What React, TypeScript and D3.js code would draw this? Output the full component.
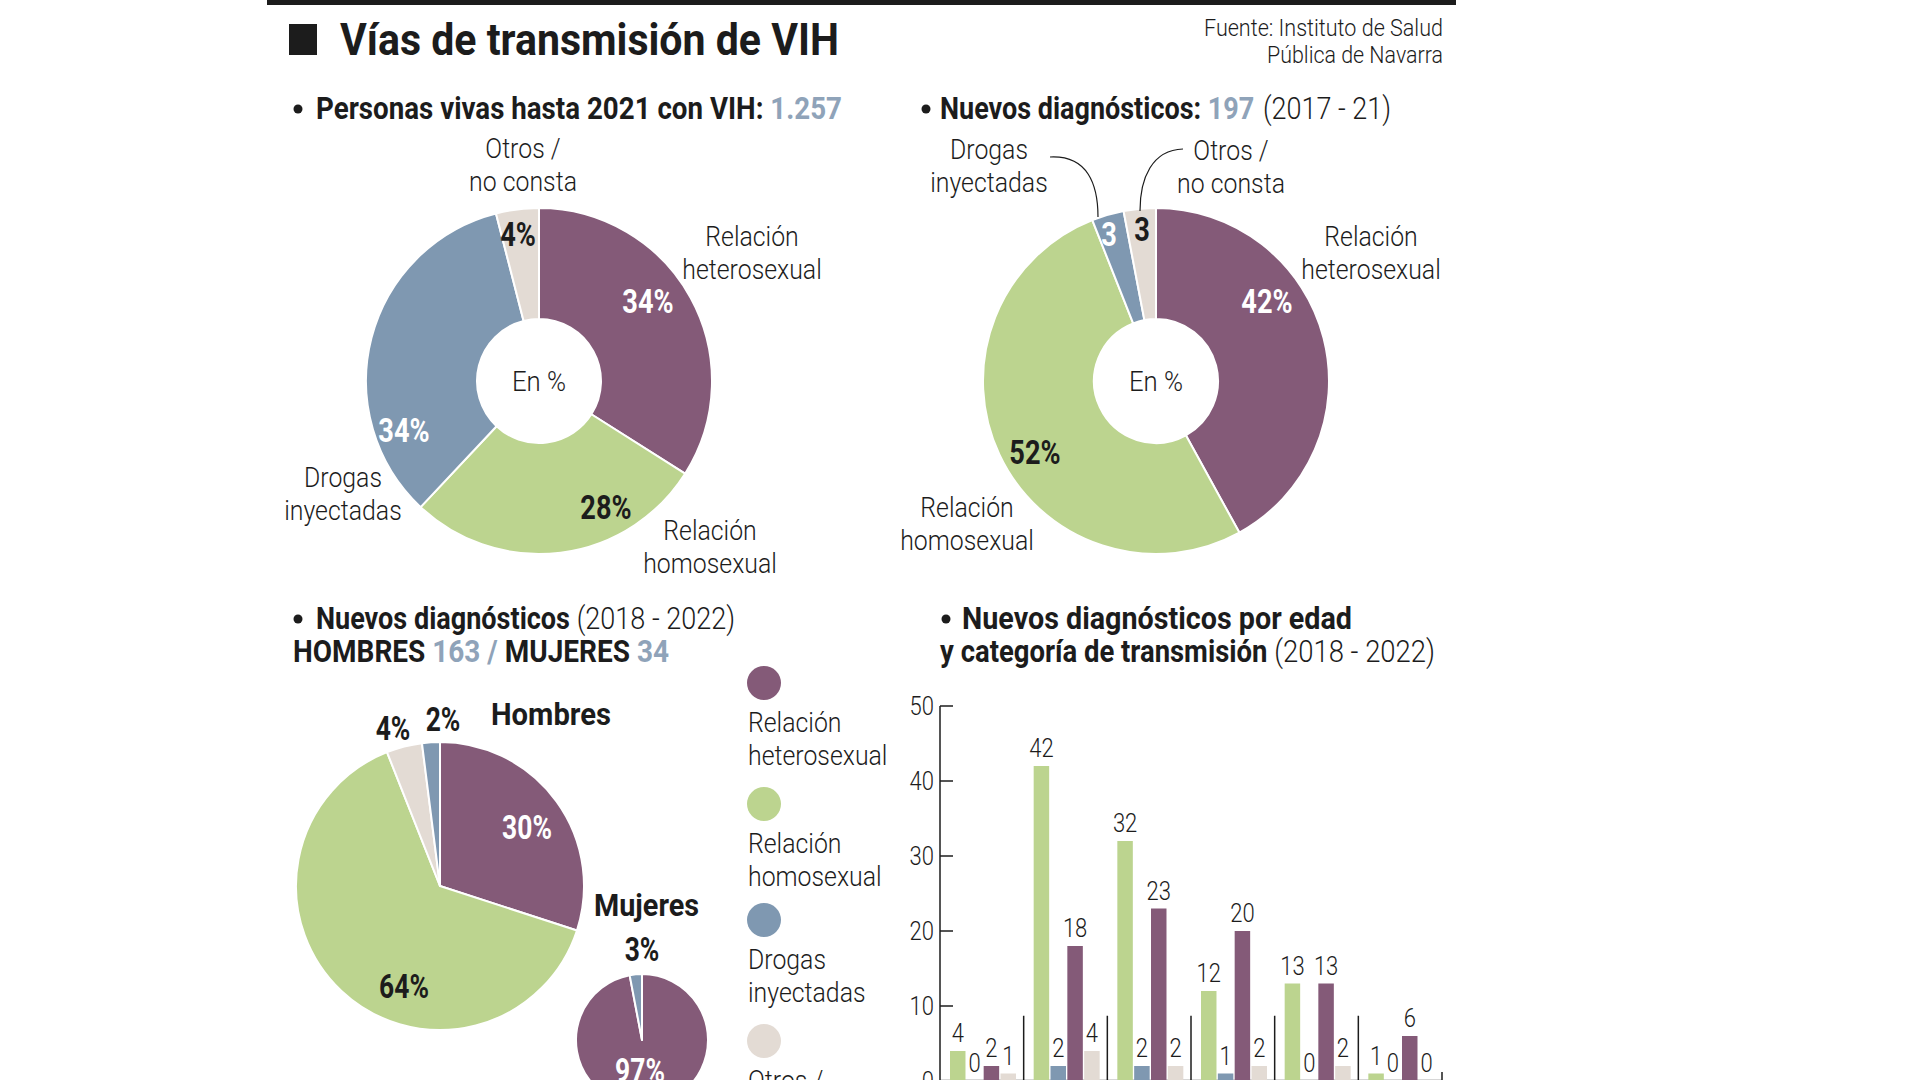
import React from 'react';
import * as d3 from 'd3';

// Palette for the four transmission routes
const COLORS: Record<string, string> = {
  hetero: '#845a78',
  homo: '#bcd48f',
  drogas: '#7f98b1',
  otros: '#e3dbd4',
};
const INK = '#1c1c1c';
const NUM_BLUE = '#8fa3b9';
const FONT = 'Roboto, "Noto Sans", sans-serif';

// Personas vivas hasta 2021 con VIH (%)
const livingCategories = ['hetero', 'homo', 'drogas', 'otros'];
const livingValues = [34, 28, 34, 4];

// Nuevos diagnósticos 2017-21 (%)
const recentCategories = ['hetero', 'homo', 'drogas', 'otros'];
const recentValues = [42, 52, 3, 3];

// Nuevos diagnósticos 2018-2022, hombres (%)
const menCategories = ['hetero', 'homo', 'otros', 'drogas'];
const menValues = [30, 64, 4, 2];

// Nuevos diagnósticos 2018-2022, mujeres (%)
const womenCategories = ['hetero', 'drogas'];
const womenValues = [97, 3];

// Nuevos diagnósticos por edad y categoría (casos)
const ageGroups = ['g1', 'g2', 'g3', 'g4', 'g5', 'g6'];
const barSeries = ['homo', 'drogas', 'hetero', 'otros'];
const homoByAge = [4, 42, 32, 12, 13, 1];
const drogasByAge = [0, 2, 2, 1, 0, 0];
const heteroByAge = [2, 18, 23, 20, 13, 6];
const otrosByAge = [1, 4, 2, 2, 2, 0];
const yTicks = [0, 10, 20, 30, 40, 50];

const legendKeys = ['hetero', 'homo', 'drogas', 'otros'];
const legendLabels = [
  ['Relación', 'heterosexual'],
  ['Relación', 'homosexual'],
  ['Drogas', 'inyectadas'],
  ['Otros /', 'no consta'],
];

const seriesByKey: Record<string, number[]> = {
  homo: homoByAge,
  drogas: drogasByAge,
  hetero: heteroByAge,
  otros: otrosByAge,
};

type LabelProps = {
  x: number;
  y: number;
  size: number;
  weight?: number;
  fill?: string;
  anchor?: 'start' | 'middle' | 'end';
  sx?: number;
  children: React.ReactNode;
};

// Text squeezed horizontally to give a condensed face
function Label({ x, y, size, weight = 300, fill = INK, anchor = 'middle', sx = 0.92, children }: LabelProps) {
  return (
    <text
      transform={`translate(${x},${y}) scale(${sx},1)`}
      fontSize={size}
      fontWeight={weight}
      fill={fill}
      textAnchor={anchor}
      fontFamily={FONT}
    >
      {children}
    </text>
  );
}

type FitProps = {
  x: number;
  y: number;
  width: number;
  size: number;
  weight?: number;
  fill?: string;
  children: React.ReactNode;
};

// Text fitted to a fixed run length
function Fit({ x, y, width, size, weight = 700, fill = INK, children }: FitProps) {
  return (
    <text
      x={x}
      y={y}
      textLength={width}
      lengthAdjust="spacingAndGlyphs"
      fontSize={size}
      fontWeight={weight}
      fill={fill}
      fontFamily={FONT}
    >
      {children}
    </text>
  );
}

type PieProps = {
  cx: number;
  cy: number;
  values: number[];
  cats: string[];
  inner: number;
  outer: number;
  texts: string[];
  offsets: [number, number][];
  fills: string[];
  size: number;
};

function PieChart({ cx, cy, values, cats, inner, outer, texts, offsets, fills, size }: PieProps) {
  const arcs = d3.pie<number>().sort(null).value((d) => d)(values);
  const arcGen = d3.arc<d3.PieArcDatum<number>>().innerRadius(inner).outerRadius(outer);
  return (
    <g transform={`translate(${cx},${cy})`}>
      {arcs.map((a, i) => (
        <path key={i} d={arcGen(a) || ''} fill={COLORS[cats[i]]} stroke="#fff" strokeWidth={2} strokeLinejoin="round" />
      ))}
      {arcs.map((a, i) => (
        <Label key={'l' + i} x={offsets[i][0]} y={offsets[i][1]} size={size} weight={700} fill={fills[i]} sx={0.8}>
          {texts[i]}
        </Label>
      ))}
    </g>
  );
}

function CategoryName({ x, y, lines }: { x: number; y: number; lines: string[] }) {
  return (
    <g>
      {lines.map((l, i) => (
        <Label key={i} x={x} y={y + i * 33} size={27}>
          {l}
        </Label>
      ))}
    </g>
  );
}

function BarChart() {
  const x0 = d3.scaleBand<string>().domain(ageGroups).range([940, 1442]).padding(0);
  const x1 = d3.scaleBand<string>().domain(barSeries).range([10, 76]).paddingInner(0.08);
  const y = d3.scaleLinear().domain([0, 50]).range([1081, 706]);
  const axisX = x0.range()[0];
  return (
    <g>
      <line x1={axisX} x2={1442} y1={1080} y2={1080} stroke="#c8c8c8" strokeWidth={1.5} />
      <line x1={axisX} x2={axisX} y1={y(50)} y2={y(0)} stroke={INK} strokeWidth={1.5} />
      {yTicks.map((t) => (
        <g key={t}>
          <line x1={axisX} x2={axisX + 13} y1={y(t)} y2={y(t)} stroke={INK} strokeWidth={1.5} />
          <Label x={axisX - 6} y={y(t) + 9} size={25} anchor="end" sx={0.88}>
            {t}
          </Label>
        </g>
      ))}
      {ageGroups.map((g, gi) => {
        const gx = x0(g) as number;
        const sepX = gx + x0.bandwidth();
        const last = gi === ageGroups.length - 1;
        return (
          <g key={g}>
            <line x1={sepX} x2={sepX} y1={last ? y(1.2) : y(8.7)} y2={y(0)} stroke={INK} strokeWidth={1.5} />
            {barSeries.map((s) => {
              const v = seriesByKey[s][gi];
              const bx = gx + (x1(s) as number);
              return (
                <g key={s}>
                  {v > 0 && (
                    <rect x={bx} y={y(v)} width={x1.bandwidth()} height={y(0) - y(v)} fill={COLORS[s]} />
                  )}
                  <Label x={bx + x1.bandwidth() / 2} y={y(v) - 9} size={25} sx={0.88}>
                    {v}
                  </Label>
                </g>
              );
            })}
          </g>
        );
      })}
    </g>
  );
}

function Legend() {
  const cys = [683, 804, 920, 1041];
  return (
    <g>
      {legendKeys.map((k, i) => (
        <g key={k}>
          <circle cx={764} cy={cys[i]} r={17} fill={COLORS[k]} />
          <Label x={748} y={cys[i] + 49} size={27} anchor="start">
            {legendLabels[i][0]}
          </Label>
          <Label x={748} y={cys[i] + 82} size={27} anchor="start">
            {legendLabels[i][1]}
          </Label>
        </g>
      ))}
    </g>
  );
}

export default function App() {
  const d1Texts = livingValues.map((v) => `${v}%`);
  const d2Texts = recentValues.map((v, i) => (i < 2 ? `${v}%` : `${v}`));
  const menTexts = menValues.map((v) => `${v}%`);
  const womenTexts = womenValues.map((v) => `${v}%`);

  return (
    <svg
      width={1920}
      height={1080}
      viewBox="0 0 1920 1080"
      style={{ position: 'absolute', left: 0, top: 0, background: '#fff' }}
    >
      <rect x={0} y={0} width={1920} height={1080} fill="#fff" />
      {/* header */}
      <rect x={267} y={0} width={1189} height={5} fill={INK} />
      <rect x={289} y={24} width={28} height={31} fill={INK} />
      <Fit x={340} y={55} width={499} size={45}>
        Vías de transmisión de VIH
      </Fit>
      <Fit x={1204} y={36} width={239} size={24} weight={300}>
        Fuente: Instituto de Salud
      </Fit>
      <Fit x={1267} y={63} width={176} size={24} weight={300}>
        Pública de Navarra
      </Fit>

      {/* section headings */}
      <circle cx={298} cy={109} r={4.5} fill={INK} />
      <Fit x={316} y={119} width={526} size={31}>
        {'Personas vivas hasta 2021 con VIH: '}
        <tspan fill={NUM_BLUE}>1.257</tspan>
      </Fit>
      <circle cx={926} cy={109} r={4.5} fill={INK} />
      <Fit x={940} y={119} width={451} size={31}>
        {'Nuevos diagnósticos: '}
        <tspan fill={NUM_BLUE}>197</tspan>
        <tspan fontWeight={300} dx={10}>
          (2017 - 21)
        </tspan>
      </Fit>
      <circle cx={298} cy={619} r={4.5} fill={INK} />
      <Fit x={316} y={629} width={419} size={31}>
        {'Nuevos diagnósticos '}
        <tspan fontWeight={300}>(2018 - 2022)</tspan>
      </Fit>
      <Fit x={293} y={662} width={376} size={31}>
        {'HOMBRES '}
        <tspan fill={NUM_BLUE}>{'163 / '}</tspan>
        {'MUJERES '}
        <tspan fill={NUM_BLUE}>34</tspan>
      </Fit>
      <circle cx={946} cy={619} r={4.5} fill={INK} />
      <Fit x={962} y={629} width={390} size={31}>
        Nuevos diagnósticos por edad
      </Fit>
      <Fit x={940} y={662} width={495} size={31}>
        {'y categoría de transmisión '}
        <tspan fontWeight={300}>(2018 - 2022)</tspan>
      </Fit>

      {/* donut: personas vivas */}
      <PieChart
        cx={539}
        cy={381}
        values={livingValues}
        cats={livingCategories}
        inner={62}
        outer={173}
        texts={d1Texts}
        offsets={[
          [109, -68],
          [67, 138],
          [-135, 61],
          [-21, -135],
        ]}
        fills={['#fff', INK, '#fff', INK]}
        size={34}
      />
      <Label x={539} y={391} size={28}>
        En %
      </Label>
      <CategoryName x={523} y={158} lines={['Otros /', 'no consta']} />
      <CategoryName x={752} y={246} lines={['Relación', 'heterosexual']} />
      <CategoryName x={343} y={487} lines={['Drogas', 'inyectadas']} />
      <CategoryName x={710} y={540} lines={['Relación', 'homosexual']} />

      {/* donut: nuevos diagnósticos 2017-21 */}
      <PieChart
        cx={1156}
        cy={381}
        values={recentValues}
        cats={recentCategories}
        inner={62}
        outer={173}
        texts={d2Texts}
        offsets={[
          [111, -68],
          [-121, 83],
          [-47, -135],
          [-14, -140],
        ]}
        fills={['#fff', INK, '#fff', INK]}
        size={34}
      />
      <Label x={1156} y={391} size={28}>
        En %
      </Label>
      <g transform="translate(1156,381)" fill="none" stroke={INK} strokeWidth={1.2}>
        <path d="M-106,-224 C-68,-226 -58,-196 -58,-164" />
        <path d="M27,-232 C-4,-231 -16,-203 -16,-170" />
      </g>
      <CategoryName x={989} y={159} lines={['Drogas', 'inyectadas']} />
      <CategoryName x={1231} y={160} lines={['Otros /', 'no consta']} />
      <CategoryName x={1371} y={246} lines={['Relación', 'heterosexual']} />
      <CategoryName x={967} y={517} lines={['Relación', 'homosexual']} />

      {/* pies: hombres / mujeres */}
      <PieChart
        cx={440}
        cy={886}
        values={menValues}
        cats={menCategories}
        inner={0}
        outer={144}
        texts={menTexts}
        offsets={[
          [87, -47],
          [-36, 112],
          [-47, -146],
          [3, -155],
        ]}
        fills={['#fff', INK, INK, INK]}
        size={33}
      />
      <Fit x={491} y={725} width={120} size={31}>
        Hombres
      </Fit>
      <PieChart
        cx={642}
        cy={1040}
        values={womenValues}
        cats={womenCategories}
        inner={0}
        outer={66}
        texts={womenTexts}
        offsets={[
          [-2, 42],
          [0, -79],
        ]}
        fills={['#fff', INK]}
        size={33}
      />
      <Fit x={594} y={916} width={105} size={31}>
        Mujeres
      </Fit>

      <Legend />
      <BarChart />
    </svg>
  );
}
